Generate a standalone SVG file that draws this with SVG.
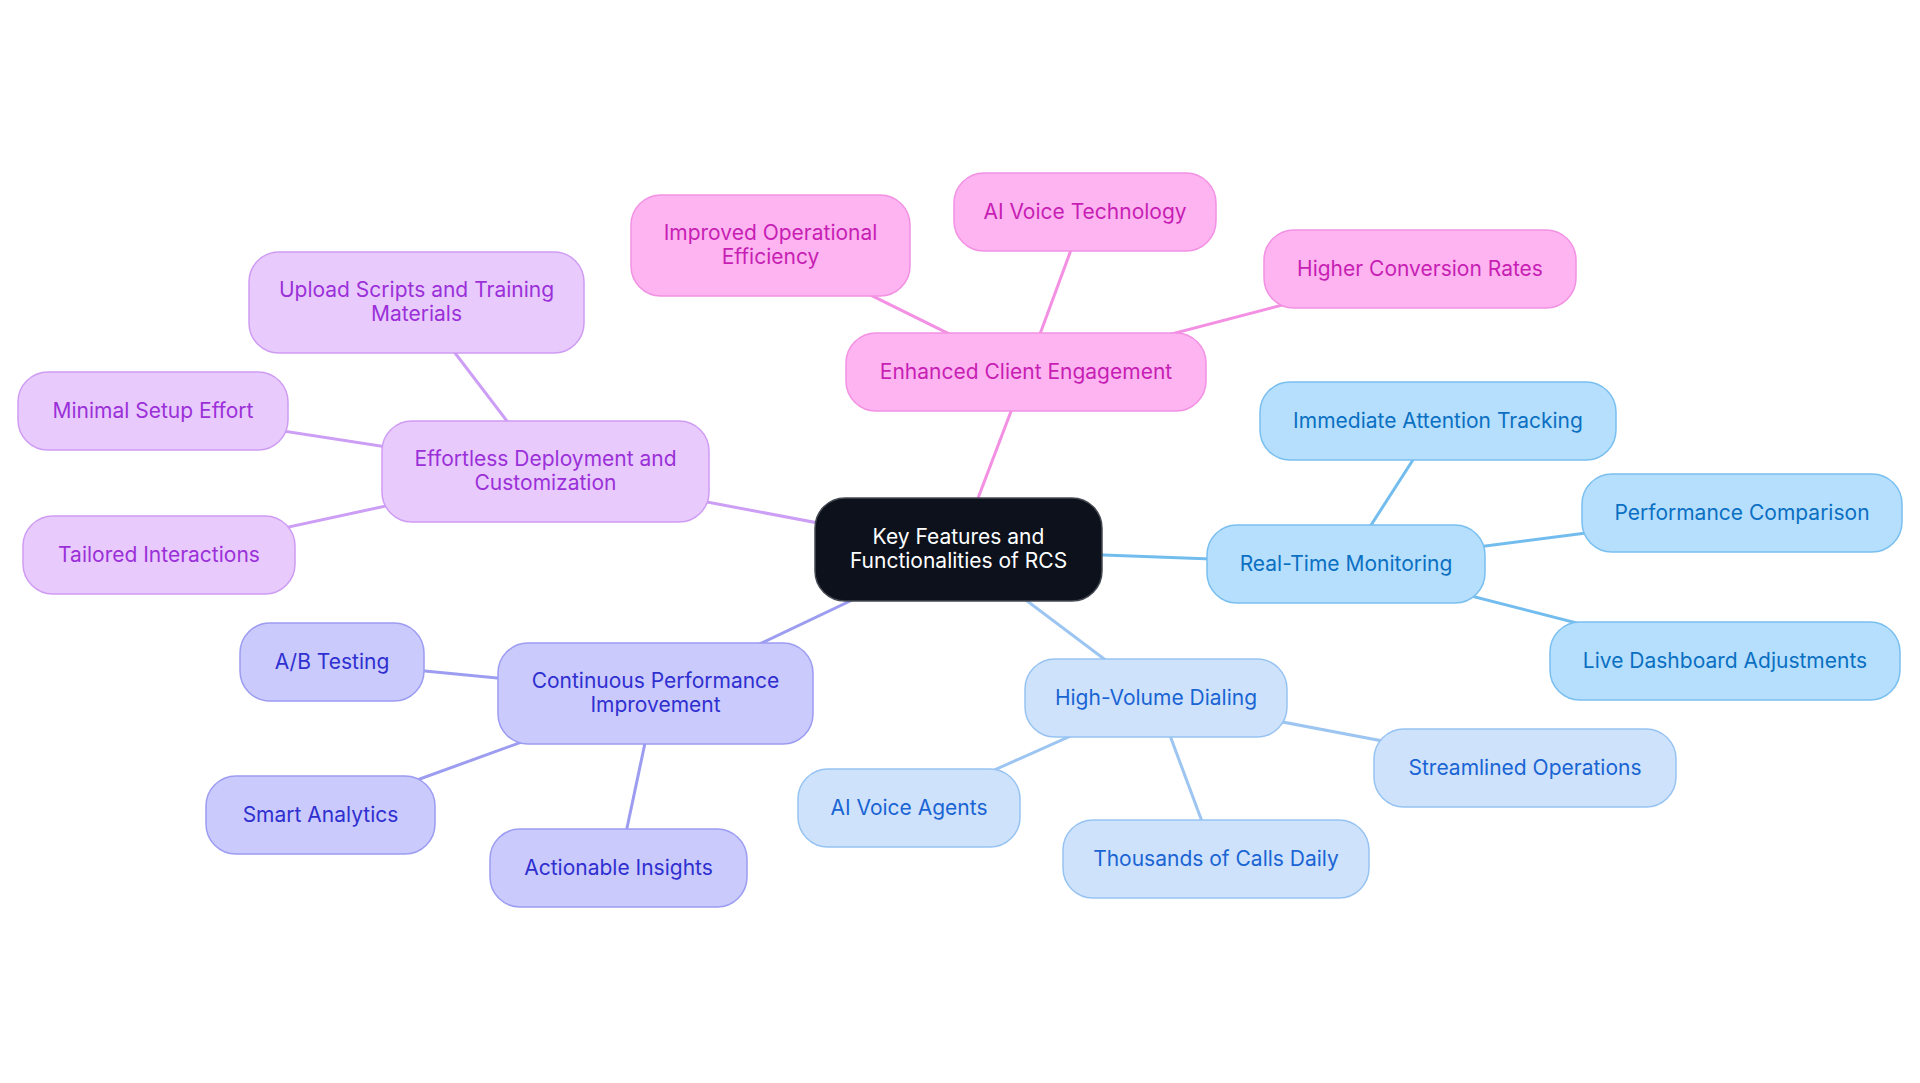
<svg xmlns="http://www.w3.org/2000/svg" width="1920" height="1083" viewBox="0 0 1920 1083">
<style>
text{font-family:Inter,"Liberation Sans",Arial,sans-serif;font-size:21px;text-anchor:middle}
.n rect{stroke-width:1.5}
.c rect{fill:#0c111c;stroke:#454a52}
.c text{fill:#ffffff}
.pk rect{fill:#fdb4f1;stroke:#f291e3}
.pk text{fill:#c71eb4}
.pu rect{fill:#e8cbfc;stroke:#cf9cf3}
.pu text{fill:#9b30d9}
.in rect{fill:#cacafc;stroke:#9c9cf2}
.in text{fill:#2f2fd0}
.lb rect{fill:#cee3fb;stroke:#97c3f2}
.lb text{fill:#1a64d4}
.sk rect{fill:#b5dffd;stroke:#79bff0}
.sk text{fill:#0b6fc2}
#edges line{stroke-width:3;fill:none}
.epk{stroke:#f490e3}.epu{stroke:#cd9ef5}.ein{stroke:#9c9cf1}.elb{stroke:#9dc5f1}.esk{stroke:#73bdee}
</style>
<rect width="1920" height="1083" fill="#ffffff"/>
<g id="edges">
<line class="epk" x1="958.5" y1="549.5" x2="1026" y2="372"/>
<line class="epk" x1="1026" y1="372" x2="770.5" y2="245.5"/>
<line class="epk" x1="1026" y1="372" x2="1085" y2="212"/>
<line class="epk" x1="1026" y1="372" x2="1420" y2="269"/>
<line class="epu" x1="958.5" y1="549.5" x2="545.5" y2="471.5"/>
<line class="epu" x1="545.5" y1="471.5" x2="416.5" y2="302.5"/>
<line class="epu" x1="545.5" y1="471.5" x2="153" y2="411"/>
<line class="epu" x1="545.5" y1="471.5" x2="159" y2="555"/>
<line class="ein" x1="958.5" y1="549.5" x2="655.5" y2="693.5"/>
<line class="ein" x1="655.5" y1="693.5" x2="332" y2="662"/>
<line class="ein" x1="655.5" y1="693.5" x2="320.5" y2="815"/>
<line class="ein" x1="655.5" y1="693.5" x2="618.5" y2="868"/>
<line class="elb" x1="958.5" y1="549.5" x2="1156" y2="698"/>
<line class="elb" x1="1156" y1="698" x2="909" y2="808"/>
<line class="elb" x1="1156" y1="698" x2="1216" y2="859"/>
<line class="elb" x1="1156" y1="698" x2="1525" y2="768"/>
<line class="esk" x1="958.5" y1="549.5" x2="1346" y2="564"/>
<line class="esk" x1="1346" y1="564" x2="1438" y2="421"/>
<line class="esk" x1="1346" y1="564" x2="1742" y2="513"/>
<line class="esk" x1="1346" y1="564" x2="1725" y2="661"/>
</g>
<g id="n-root" class="n c"><rect x="815" y="498" width="287" height="103" rx="30"/><text x="958.5" y="544">Key Features and</text><text x="958.5" y="568">Functionalities of RCS</text></g>
<g id="n-enhanced" class="n pk"><rect x="846" y="333" width="360" height="78" rx="30"/><text x="1026" y="379">Enhanced Client Engagement</text></g>
<g id="n-improved" class="n pk"><rect x="631" y="195" width="279" height="101" rx="30"/><text x="770.5" y="240">Improved Operational</text><text x="770.5" y="264">Efficiency</text></g>
<g id="n-aivoicetech" class="n pk"><rect x="954" y="173" width="262" height="78" rx="30"/><text x="1085" y="219">AI Voice Technology</text></g>
<g id="n-higher" class="n pk"><rect x="1264" y="230" width="312" height="78" rx="30"/><text x="1420" y="276">Higher Conversion Rates</text></g>
<g id="n-effortless" class="n pu"><rect x="382" y="421" width="327" height="101" rx="30"/><text x="545.5" y="466">Effortless Deployment and</text><text x="545.5" y="490">Customization</text></g>
<g id="n-upload" class="n pu"><rect x="249" y="252" width="335" height="101" rx="30"/><text x="416.5" y="297">Upload Scripts and Training</text><text x="416.5" y="321">Materials</text></g>
<g id="n-minimal" class="n pu"><rect x="18" y="372" width="270" height="78" rx="30"/><text x="153" y="418">Minimal Setup Effort</text></g>
<g id="n-tailored" class="n pu"><rect x="23" y="516" width="272" height="78" rx="30"/><text x="159" y="562">Tailored Interactions</text></g>
<g id="n-continuous" class="n in"><rect x="498" y="643" width="315" height="101" rx="30"/><text x="655.5" y="688">Continuous Performance</text><text x="655.5" y="712">Improvement</text></g>
<g id="n-ab" class="n in"><rect x="240" y="623" width="184" height="78" rx="30"/><text x="332" y="669">A/B Testing</text></g>
<g id="n-smart" class="n in"><rect x="206" y="776" width="229" height="78" rx="30"/><text x="320.5" y="822">Smart Analytics</text></g>
<g id="n-actionable" class="n in"><rect x="490" y="829" width="257" height="78" rx="30"/><text x="618.5" y="875">Actionable Insights</text></g>
<g id="n-highvolume" class="n lb"><rect x="1025" y="659" width="262" height="78" rx="30"/><text x="1156" y="705">High-Volume Dialing</text></g>
<g id="n-aivoiceagents" class="n lb"><rect x="798" y="769" width="222" height="78" rx="30"/><text x="909" y="815">AI Voice Agents</text></g>
<g id="n-thousands" class="n lb"><rect x="1063" y="820" width="306" height="78" rx="30"/><text x="1216" y="866">Thousands of Calls Daily</text></g>
<g id="n-streamlined" class="n lb"><rect x="1374" y="729" width="302" height="78" rx="30"/><text x="1525" y="775">Streamlined Operations</text></g>
<g id="n-realtime" class="n sk"><rect x="1207" y="525" width="278" height="78" rx="30"/><text x="1346" y="571">Real-Time Monitoring</text></g>
<g id="n-immediate" class="n sk"><rect x="1260" y="382" width="356" height="78" rx="30"/><text x="1438" y="428">Immediate Attention Tracking</text></g>
<g id="n-performance" class="n sk"><rect x="1582" y="474" width="320" height="78" rx="30"/><text x="1742" y="520">Performance Comparison</text></g>
<g id="n-live" class="n sk"><rect x="1550" y="622" width="350" height="78" rx="30"/><text x="1725" y="668">Live Dashboard Adjustments</text></g>
</svg>
